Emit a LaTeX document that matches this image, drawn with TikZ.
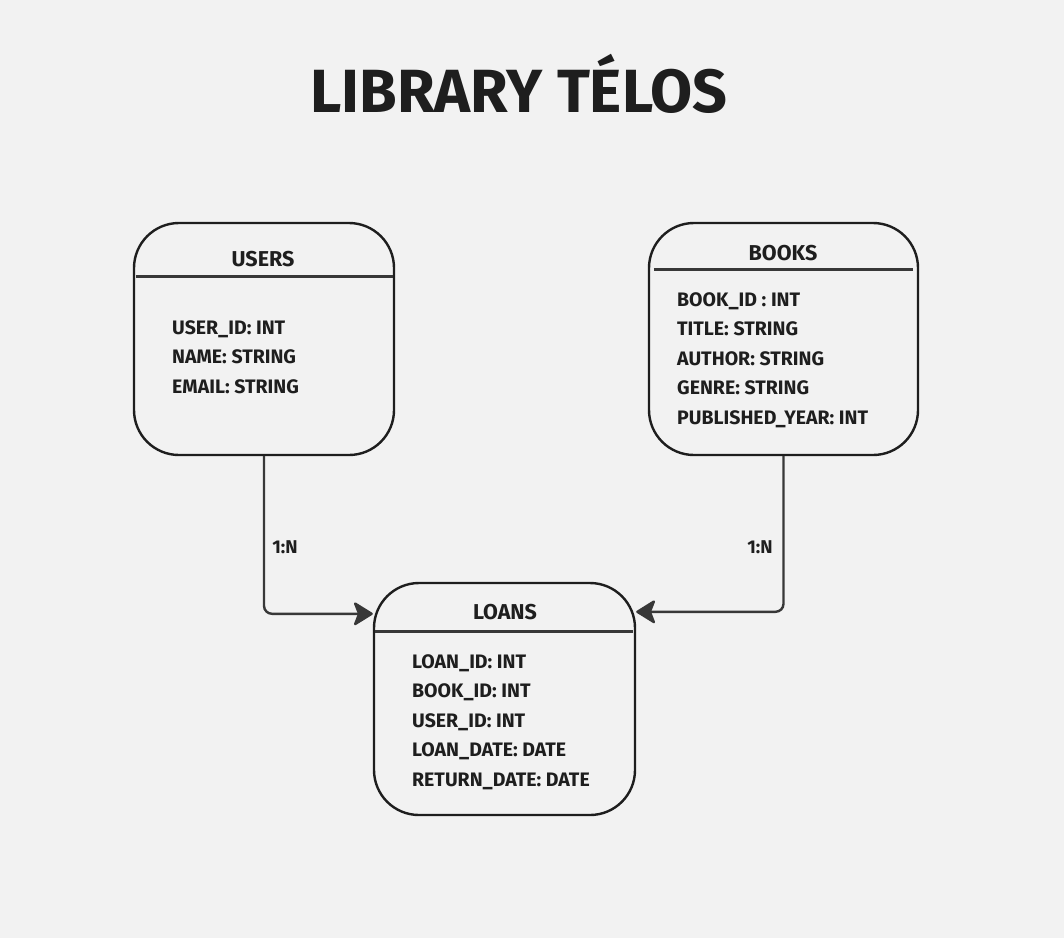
\documentclass[tikz,border=0pt]{standalone}
\usepackage{fontspec}
\setmainfont{Fira Sans}
\usetikzlibrary{arrows.meta}

\definecolor{canvas}{HTML}{F2F2F2}
\definecolor{ink}{HTML}{1E1E1E}
\definecolor{linkgray}{HTML}{383838}

\begin{document}
\begin{tikzpicture}[
        x=1pt,
        y=-1pt,
        entity/.style={
            rectangle,
            draw=ink,
            line width=2.4pt,
            rounded corners=45pt,
            minimum height=232pt,
            inner sep=0pt
        },
        entitytitle/.style={
            anchor=base,
            inner sep=0pt,
            text=ink,
            font=\fontsize{21.5}{21.5}\selectfont\bfseries
        },
        fieldlist/.style={
            anchor=north west,
            align=left,
            inner sep=0pt,
            text=ink,
            font=\fontsize{19.5}{29.5}\selectfont\bfseries
        },
        divider/.style={draw=linkgray, line width=2.8pt},
        cardinality/.style={
            inner sep=0pt,
            text=ink,
            font=\fontsize{18.5}{18.5}\selectfont\bfseries
        },
        arrow/.style={
            -{Stealth[length=21pt,width=26pt,inset=5pt,round]},
            draw=linkgray,
            line width=2.4pt,
            rounded corners=8pt
        }
    ]

        \fill[canvas] (0,0) rectangle (1064,938);

        \node[anchor=base, inner sep=0pt, text=ink, font=\fontsize{61}{61}\selectfont\bfseries] (title) at (519,112) {LIBRARY TÉLOS};

        \node[entity, minimum width=260pt] (users) at (264,339) {};
        \node[entity, minimum width=269pt] (books) at (783.5,339) {};
        \node[entity, minimum width=261pt] (loans) at (504.5,699) {};

        \draw[divider] ([xshift=3pt,yshift=-55pt]users.north west) -- ([xshift=-2pt,yshift=-55pt]users.north east);
        \draw[divider] ([xshift=6pt,yshift=-48pt]books.north west) -- ([xshift=-6pt,yshift=-48pt]books.north east);
        \draw[divider] ([xshift=2pt,yshift=-50pt]loans.north west) -- ([xshift=-3pt,yshift=-50pt]loans.north east);

        \node[entitytitle] (userstitle) at (263,266) {USERS};
        \node[entitytitle] (bookstitle) at (783,260) {BOOKS};
        \node[entitytitle] (loanstitle) at (505,619) {LOANS};

        \node[fieldlist] (usersfields) at (172,320) {USER\_ID: INT\\NAME: STRING\\EMAIL: STRING};
        \node[fieldlist] (booksfields) at (677,292) {BOOK\_ID : INT\\TITLE: STRING\\AUTHOR: STRING\\GENRE: STRING\\PUBLISHED\_YEAR: INT};
        \node[fieldlist] (loansfields) at (412,654) {LOAN\_ID: INT\\BOOK\_ID: INT\\USER\_ID: INT\\LOAN\_DATE: DATE\\RETURN\_DATE: DATE};

        \draw[arrow] (users.south) |- ([yshift=-32pt]loans.north west);
        \draw[arrow] (books.south) |- ([yshift=-30pt]loans.north east);

        \node[cardinality] (userscard) at (285,547) {1:N};
        \node[cardinality] (bookscard) at (760,547) {1:N};

    \end{tikzpicture}
\end{document}
